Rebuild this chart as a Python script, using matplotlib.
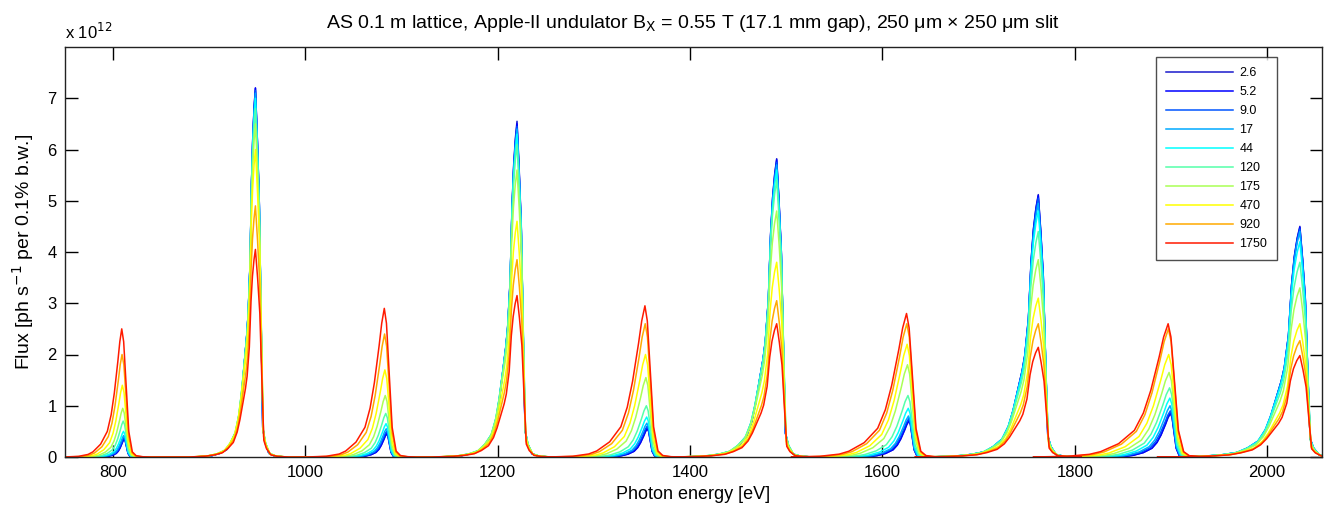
import numpy as np
import matplotlib
matplotlib.use("Agg")
import matplotlib.pyplot as plt

plt.rcParams['font.family'] = ['Liberation Sans', 'DejaVu Sans']

# ---------------- data ----------------
series_labels = ['2.6', '5.2', '9.0', '17', '44', '120', '175', '470', '920', '1750']
series_colors = ['#1a1acc', '#0000ff', '#0055ff', '#00aaff', '#00ffff',
                 '#55ffaa', '#aaff55', '#ffff00', '#ffaa00', '#ff1a00']

peak_energy = [809, 948, 1082, 1220, 1353, 1490, 1625, 1762, 1897, 2034]
peak_kind = ['weak', 'strong', 'weak', 'strong', 'weak',
             'strong', 'weak', 'strong', 'weak', 'strong']
# low-energy tail width of each harmonic relative to the first one of its kind
peak_tail_scale = [1.0, 1.0, 1.34, 1.29, 1.67, 1.57, 2.0, 1.86, 2.34, 2.15]

# peak flux (x1e12) for each series (rows) at each harmonic (columns)
peak_flux = [
    [0.35, 7.20, 0.45, 6.55, 0.55, 5.82, 0.70, 5.12, 0.85, 4.50],   # 2.6
    [0.36, 7.20, 0.47, 6.50, 0.57, 5.80, 0.72, 5.10, 0.87, 4.48],   # 5.2
    [0.38, 7.15, 0.50, 6.45, 0.60, 5.75, 0.75, 5.05, 0.90, 4.45],   # 9.0
    [0.42, 7.10, 0.55, 6.40, 0.66, 5.70, 0.80, 4.95, 1.00, 4.40],   # 17
    [0.50, 7.00, 0.65, 6.30, 0.78, 5.60, 0.95, 4.80, 1.15, 4.20],   # 44
    [0.70, 6.80, 0.85, 6.10, 1.00, 5.40, 1.20, 4.40, 1.35, 3.80],   # 120
    [0.95, 6.50, 1.20, 5.60, 1.55, 4.80, 1.80, 3.85, 1.65, 3.30],   # 175
    [1.40, 6.00, 1.70, 4.60, 2.00, 3.80, 2.20, 3.10, 2.00, 2.60],   # 470
    [2.00, 4.90, 2.40, 3.85, 2.60, 3.05, 2.60, 2.60, 2.50, 2.27],   # 920
    [2.50, 4.05, 2.90, 3.15, 2.95, 2.60, 2.80, 2.14, 2.60, 1.98],   # 1750
]

# relative line shapes (offset in eV from the peak)
strong_offsets = [-60, -45, -37, -30, -25, -20, -16.5, -14, -11, -9, -7.5, -5.5,
                  -4, -2.7, -1.3, 0, 2, 4, 6, 7.6, 10, 14, 20, 30]
strong_rel = [0, 0.004, 0.01, 0.02, 0.04, 0.07, 0.12, 0.18, 0.27, 0.33, 0.39, 0.53,
              0.75, 0.87, 0.95, 1.0, 0.86, 0.69, 0.34, 0.08, 0.04, 0.01, 0.003, 0]
weak_offsets = [-60, -45, -35, -30, -22, -15, -11, -7.7, -4, -2, 0, 2, 5, 7.3,
                11, 15, 22, 30]
weak_rel = [0, 0.005, 0.02, 0.04, 0.10, 0.20, 0.33, 0.50, 0.75, 0.90, 1.0, 0.90,
            0.50, 0.20, 0.04, 0.01, 0.002, 0]

strong_width = [1.0, 1.0, 1.0, 1.02, 1.03, 1.05, 1.07, 1.09, 1.12, 1.15]
weak_width = [0.55, 0.55, 0.60, 0.62, 0.68, 0.75, 0.82, 0.88, 0.95, 1.0]
weak_shift = [2.5, 2.5, 2.3, 2.0, 1.8, 1.5, 1.0, 0.6, 0.3, 0.0]

energy_range = [750, 2057]

# ---------------- figure ----------------
fig = plt.figure(figsize=(13.30, 5.15), dpi=100)
ax = fig.add_axes([65 / 1330, 1 - 457 / 515, (1322 - 65) / 1330, (457 - 47) / 515])

for i, lab in enumerate(series_labels):
    xs = [energy_range[0] - 10]
    ys = [0.0]
    for j, e0 in enumerate(peak_energy):
        h = peak_flux[i][j]
        if peak_kind[j] == 'strong':
            offs = np.array(strong_offsets, dtype=float) * strong_width[i]
            rel = np.array(strong_rel)
            c = e0
        else:
            offs = np.array(weak_offsets, dtype=float) * weak_width[i]
            rel = np.array(weak_rel)
            c = e0 + weak_shift[i]
        s = peak_tail_scale[j]
        offs = np.where(offs < 0, offs * s, offs * (1 + 0.35 * (s - 1)))
        xs.extend(list(c + offs))
        ys.extend(list(h * rel))
    xs.append(energy_range[1] + 20)
    ys.append(0.0)
    ax.plot(xs, ys, color=series_colors[i], lw=1.1, label=lab)

ax.set_xlim(energy_range)
ax.set_ylim(0, 8)
ax.set_xticks([800, 1000, 1200, 1400, 1600, 1800, 2000])
ax.set_yticks(range(0, 8))
ax.tick_params(direction='in', length=9, width=1, top=True, right=True,
               labelsize=12, pad=6)
for sp in ax.spines.values():
    sp.set_linewidth(1.0)
    sp.set_color('#222222')

ax.set_xlabel('Photon energy [eV]', fontsize=13, labelpad=4)
ax.set_ylabel('Flux [ph s$^{-1}$ per 0.1% b.w.]', fontsize=14, labelpad=8)
ax.set_title('AS 0.1 m lattice, Apple-II undulator B$_{\\mathrm{X}}$ = 0.55 T (17.1 mm gap), '
             '250 \u03bcm \u00d7 250 \u03bcm slit', fontsize=14, pad=14)
ax.text(0.0, 1.012, 'x 10$^{12}$', transform=ax.transAxes, fontsize=12,
        ha='left', va='bottom')

leg = ax.legend(loc='upper right', bbox_to_anchor=(0.9645, 0.975), fontsize=9,
                handlelength=5.4, labelspacing=0.56, frameon=True, fancybox=False,
                borderpad=0.8, handletextpad=0.5, borderaxespad=0)
leg.get_frame().set_edgecolor('#222222')
leg.get_frame().set_linewidth(1.0)

fig.savefig('out.png', dpi=100)
